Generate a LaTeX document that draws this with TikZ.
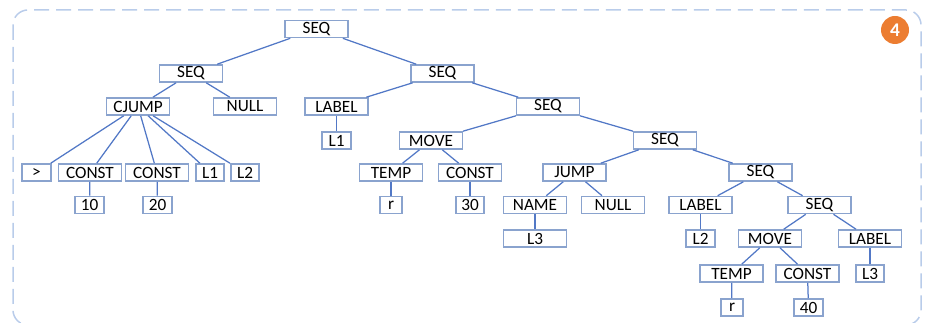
\documentclass[tikz,border=0pt]{standalone}
\usepackage{fontspec}
\setmainfont{Carlito}
\usepackage{xcolor}
\usepackage{tikz}
\usetikzlibrary{positioning}

\definecolor{boxblue}{RGB}{138,163,206}
\definecolor{edgeblue}{RGB}{82,120,198}
\definecolor{frameblue}{RGB}{185,204,234}
\definecolor{badgeorange}{RGB}{236,125,49}

\tikzset{
  op/.style={draw=boxblue, line width=0.032cm, fill=white, inner sep=0pt,
    minimum width=1.26cm, minimum height=0.34cm,
    font=\fontsize{9.8}{10}\selectfont},
  leaf/.style={op, minimum width=0.57cm},
  tinyleaf/.style={op, minimum width=0.44cm},
  edge/.style={draw=edgeblue, line width=0.025cm}
}

\begin{document}
\begin{tikzpicture}[x=0.02cm,y=-0.02cm]
            \useasboundingbox (0,0) rectangle (936,323);
            % Frame and badge
            \draw[frameblue, line width=0.03cm, dash pattern=on 0.3cm off 0.14cm,
              rounded corners=0.3cm] (13,10) rectangle (921,325);
            \node[circle, fill=badgeorange, minimum size=0.56cm, inner sep=0pt,
              text=white, font=\fontsize{11}{11}\bfseries] (badge) at (895,30) {4};

            % Top of the tree
            \node[op] (root) at (316.5,29) {SEQ};
            \node[op] (s1) at (191,73.5) {SEQ};
            \node[op] (s2) at (442.5,73.5) {SEQ};

            % Left subtree (conditional jump)
            \node[op] (cjump) at (138,106.5) {CJUMP};
            \node[op] (null1) at (245,106.5) {NULL};
            \node[leaf] (gt) at (36.5,172.5) {>};
            \node[op] (const1) at (90,172.5) {CONST};
            \node[op] (const2) at (157,172.5) {CONST};
            \node[leaf] (cl1) at (210,172.5) {L1};
            \node[leaf] (cl2) at (245,172.5) {L2};
            \node[leaf] (n10) at (89.5,205) {10};
            \node[leaf] (n20) at (157.5,205) {20};

            % Right subtree
            \node[op] (label1) at (336.5,106.5) {LABEL};
            \node[op] (s3) at (548,106.5) {SEQ};
            \node[leaf] (l1) at (336.5,140.5) {L1};
            \node[op] (move1) at (431,140.5) {MOVE};
            \node[op] (s4) at (665,140.5) {SEQ};
            \node[op] (temp1) at (391,172.5) {TEMP};
            \node[op] (const3) at (470,172.5) {CONST};
            \node[tinyleaf] (r1) at (391,205) {r};
            \node[leaf] (n30) at (470,205) {30};
            \node[op] (jump) at (574.5,172.5) {JUMP};
            \node[op] (s5) at (760.5,172.5) {SEQ};
            \node[op] (name) at (535,205) {NAME};
            \node[op] (null2) at (613,205) {NULL};
            \node[op] (l3a) at (535,238.5) {L3};
            \node[op] (label2) at (700.5,205) {LABEL};
            \node[op] (s6) at (819.5,205) {SEQ};
            \node[leaf] (l2) at (700.5,238.5) {L2};
            \node[op] (move2) at (770,238.5) {MOVE};
            \node[op] (label3) at (870,238.5) {LABEL};
            \node[op] (temp2) at (731.5,273.5) {TEMP};
            \node[op] (const4) at (807.5,273.5) {CONST};
            \node[leaf] (l3b) at (870,273.5) {L3};
            \node[tinyleaf] (r2) at (732,307.5) {r};
            \node[leaf] (n40) at (808.5,307.5) {40};

            % Edges
            \draw[edge] (root) -- (s1);
            \draw[edge] (root) -- (s2);
            \draw[edge] (s1) -- (cjump);
            \draw[edge] (s1) -- (null1);
            \draw[edge] (cjump) -- (gt);
            \draw[edge] (cjump) -- (const1);
            \draw[edge] (cjump) -- (const2);
            \draw[edge] (cjump) -- (cl1);
            \draw[edge] (cjump) -- (cl2);
            \draw[edge] (const1) -- (n10);
            \draw[edge] (const2) -- (n20);
            \draw[edge] (s2) -- (label1);
            \draw[edge] (s2) -- (s3);
            \draw[edge] (label1) -- (l1);
            \draw[edge] (s3) -- (move1);
            \draw[edge] (s3) -- (s4);
            \draw[edge] (move1) -- (temp1);
            \draw[edge] (move1) -- (const3);
            \draw[edge] (temp1) -- (r1);
            \draw[edge] (const3) -- (n30);
            \draw[edge] (s4) -- (jump);
            \draw[edge] (s4) -- (s5);
            \draw[edge] (jump) -- (name);
            \draw[edge] (jump) -- (null2);
            \draw[edge] (name) -- (l3a);
            \draw[edge] (s5) -- (label2);
            \draw[edge] (s5) -- (s6);
            \draw[edge] (label2) -- (l2);
            \draw[edge] (s6) -- (move2);
            \draw[edge] (s6) -- (label3);
            \draw[edge] (move2) -- (temp2);
            \draw[edge] (move2) -- (const4);
            \draw[edge] (temp2) -- (r2);
            \draw[edge] (const4) -- (n40);
            \draw[edge] (label3) -- (l3b);
        \end{tikzpicture}
\end{document}
